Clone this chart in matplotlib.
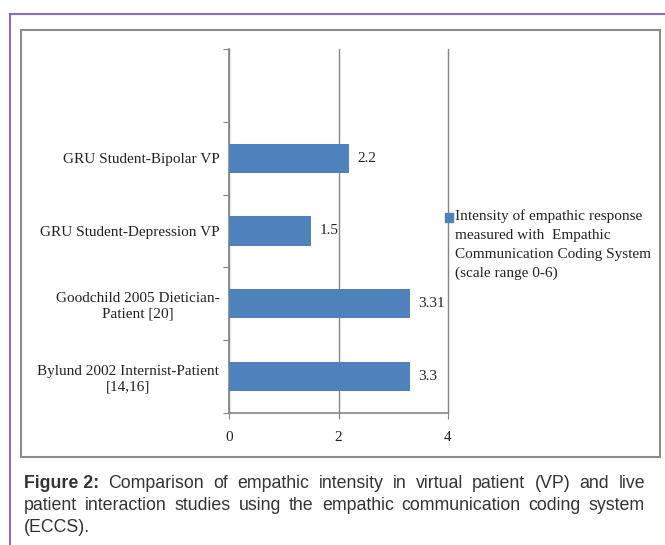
import matplotlib
matplotlib.use('Agg')
import matplotlib.pyplot as plt
from matplotlib import font_manager
from matplotlib.lines import Line2D
from matplotlib.patches import Rectangle

# data
categories = ['Bylund 2002 Internist-Patient\n[14,16]',
              'Goodchild 2005 Dietician-\nPatient [20]',
              'GRU Student-Depression VP',
              'GRU Student-Bipolar VP']
values = [3.3, 3.31, 1.5, 2.2]
value_labels = ['3.3', '3.31', '1.5', '2.2']
series_name = ('Intensity of empathic response\nmeasured with  Empathic\n'
               'Communication Coding System\n(scale range 0-6)')
x_ticks = [0, 2, 4]
caption_bold = 'Figure 2:'
caption_lines = [
    'Comparison of empathic intensity in virtual patient (VP) and live',
    'patient interaction studies using the empathic communication coding system',
    '(ECCS).',
]

W, H = 665, 545
bar_color = '#4F81BD'
axis_gray = '#868686'
serif = ['Liberation Serif', 'DejaVu Serif']

# narrow sans for the caption if we have it
names = {f.name for f in font_manager.fontManager.ttflist}
if 'Liberation Sans Narrow' in names:
    sans, cap_size = ['Liberation Sans Narrow', 'DejaVu Sans'], 13.5
else:
    sans, cap_size = ['Liberation Sans', 'DejaVu Sans'], 12.8

fig = plt.figure(figsize=(W / 100, H / 100), dpi=100)

def fx(px):
    return px / W

def fy(py):
    return 1 - py / H

# outer purple frame (top and left) and inner chart frame
fig.add_artist(Line2D([fx(10), 1], [fy(14), fy(14)], color='#8A6CC4', lw=1.5))
fig.add_artist(Line2D([fx(10), fx(10)], [0, fy(14)], color='#8A6CC4', lw=1.5))
fig.add_artist(Rectangle((fx(21), fy(457)), fx(660) - fx(21), fy(30) - fy(457),
                         fill=False, edgecolor='#8C8C8C', lw=1.5))

ax = fig.add_axes([fx(229), fy(413), fx(448) - fx(229), fy(49) - fy(413)])
pos = [i + 0.5 for i in range(len(categories))]
bars = ax.barh(pos, values, height=0.4, color=bar_color, zorder=3)
for bar, lab in zip(bars, value_labels):
    ax.annotate(lab, (bar.get_width(), bar.get_y() + bar.get_height() / 2),
                xytext=(6, 0), textcoords='offset points', va='center',
                ha='left', fontsize=11, family=serif, color='#222222')

ax.set_xlim(0, 4)
ax.set_ylim(0, 5)
ax.set_xticks(x_ticks)
ax.set_xticklabels([str(t) for t in x_ticks], family=serif, fontsize=11)
ax.tick_params(axis='x', length=4, color=axis_gray, pad=9, labelcolor='#222222')
ax.set_yticks(range(6))
ax.set_yticklabels([])
ax.tick_params(axis='y', which='major', length=4, color=axis_gray)
ax.set_yticks(pos, minor=True)
ax.set_yticklabels(categories, minor=True, family=serif, fontsize=11,
                   multialignment='center', color='#222222')
ax.tick_params(axis='y', which='minor', length=0, pad=7)
ax.grid(axis='x', color=axis_gray, lw=1, zorder=0)
for gl in ax.get_xgridlines():
    gl.set_clip_on(False)
for s in ['top', 'right']:
    ax.spines[s].set_visible(False)
for s in ['left', 'bottom']:
    ax.spines[s].set_color(axis_gray)
    ax.spines[s].set_linewidth(1.2)

# legend drawn by hand so the key sits beside the first line
fig.add_artist(Rectangle((fx(445), fy(222)), fx(453) - fx(445), fy(213) - fy(222),
                         color=bar_color))
fig.text(fx(455), fy(209), series_name, family=serif, fontsize=11,
         va='top', ha='left', linespacing=1.6, color='#222222')

# caption, justified lines
fig.canvas.draw()
renderer = fig.canvas.get_renderer()
left, right = 24, 645
line_y = [484, 506, 528]
cap_color = '#333333'
for i, line in enumerate(caption_lines):
    words = line.split(' ')
    items = []
    if i == 0:
        items.append((caption_bold, 'bold'))
    items += [(w, 'normal') for w in words]
    texts = []
    for w, weight in items:
        t = fig.text(0, fy(line_y[i]), w, family=sans, fontsize=cap_size,
                     weight=weight, color=cap_color, va='center', ha='left')
        texts.append(t)
    widths = [t.get_window_extent(renderer).width for t in texts]
    if i < len(caption_lines) - 1:
        gap = (right - left - sum(widths)) / (len(texts) - 1)
    else:
        gap = 4
    x = left
    for t, w in zip(texts, widths):
        t.set_x(fx(x))
        x += w + gap

fig.savefig('out.png', dpi=100)
